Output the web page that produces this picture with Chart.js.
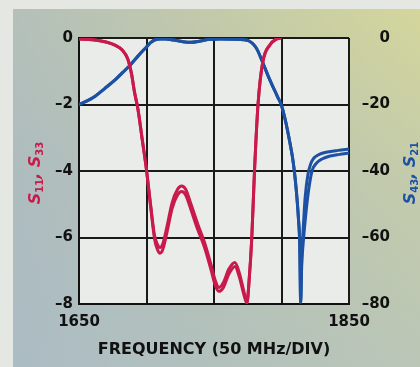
<!DOCTYPE html>
<html>
<head>
<meta charset="utf-8">
<script src="https://cdn.jsdelivr.net/npm/chart.js@4.4.1/dist/chart.umd.min.js"></script>
<style>
  html, body { margin: 0; padding: 0; background: #e4e7e2; }
  #wrap { width: 420px; height: 367px; position: relative; }
</style>
</head>
<body>
<div id="wrap"><canvas id="c" width="420" height="367"></canvas></div>
<script>
// ---- Data ----
const freqTicks = [1650, 1850];
const leftTicks = [0, -2, -4, -6, -8];
const rightTicks = [0, -20, -40, -60, -80];

// S11 (left axis)
const s11Freq = [1650,1660,1670,1677,1682,1686,1689,1691,1693.7,1697,1700,1703,1706,1708,1710,1712,1715,1719,1723,1726,1729,1733,1738,1743,1748,1751,1753.7,1757,1761,1765.5,1769,1772,1774.4,1776,1778,1780,1782.6,1786,1791.5,1796,1799];
const s11Val  = [-0.03,-0.05,-0.12,-0.22,-0.36,-0.62,-1.1,-1.6,-2.15,-3.1,-3.97,-5.0,-5.95,-6.2,-6.3,-6.2,-5.7,-4.95,-4.55,-4.45,-4.55,-5.0,-5.6,-6.15,-6.85,-7.3,-7.5,-7.35,-6.95,-6.75,-7.1,-7.6,-7.95,-7.3,-6.0,-4.0,-2.0,-0.75,-0.2,-0.04,0];
// S33 (left axis)
const s33Freq = s11Freq;
const s33Val  = [-0.03,-0.05,-0.12,-0.22,-0.36,-0.62,-1.1,-1.6,-2.15,-3.1,-3.97,-5.05,-6.05,-6.35,-6.47,-6.37,-5.88,-5.12,-4.72,-4.62,-4.72,-5.17,-5.77,-6.3,-7.0,-7.45,-7.62,-7.5,-7.1,-6.87,-7.22,-7.7,-7.98,-7.3,-6.0,-4.0,-2.0,-0.75,-0.2,-0.04,0];

// S21 (right axis, dB)
const s21Freq = [1650,1656,1662,1669,1676.7,1682,1688,1694,1700,1703,1706,1710,1714,1720,1727,1733,1740,1747,1755,1765,1772,1776,1779,1782,1786,1790,1793.7,1797,1800,1803,1806,1808,1809.5,1811,1812.5,1813.5,1814.2,1815,1816,1817.5,1819.6,1821.5,1824,1828,1834,1842,1850];
const s21Val  = [-20.0,-18.9,-17.5,-15.2,-12.6,-10.5,-8.1,-5.3,-2.7,-1.4,-0.6,-0.3,-0.3,-0.6,-1.1,-1.3,-0.9,-0.4,-0.3,-0.35,-0.5,-0.9,-1.8,-3.5,-7.3,-11.3,-14.7,-17.6,-20.3,-25,-31,-35.5,-40,-46,-54,-62,-79.5,-66,-58,-48,-41,-38,-36.1,-35.0,-34.3,-33.8,-33.4];
// S43 (right axis, dB)
const s43Freq = [1650,1656,1662,1669,1676.7,1682,1688,1694,1700,1703,1706,1710,1714,1720,1727,1733,1740,1747,1755,1765,1772,1776,1779,1782,1786,1790,1793.7,1797,1800,1803,1806,1808,1809.5,1811,1812.5,1813.5,1814.2,1815,1816,1818,1820,1822.6,1826,1830,1836,1843,1850];
const s43Val  = [-20.0,-18.9,-17.5,-15.2,-12.6,-10.5,-8.1,-5.3,-2.7,-1.4,-0.6,-0.3,-0.3,-0.6,-1.1,-1.3,-0.9,-0.4,-0.3,-0.35,-0.5,-0.9,-1.8,-3.5,-7.3,-11.3,-14.7,-17.6,-20.3,-25,-31,-35.5,-40,-46,-54,-62,-79.5,-68,-62,-53,-46,-40,-37.6,-36.4,-35.5,-35.0,-34.6];

const xTitle = 'FREQUENCY (50 MHz/DIV)';
const leftTitle = [['S', 0], ['11', 1], [', ', 0], ['S', 0], ['33', 1]];
const rightTitle = [['S', 0], ['43', 1], [', ', 0], ['S', 0], ['21', 1]];

const RED = '#c81a4b';
const BLUE = '#1d51a3';

function pts(xs, ys) { return xs.map((x, i) => ({ x: x, y: ys[i] })); }
function dash(v) { return v === 0 ? '0' : '\u2013' + Math.abs(v); }

const bgPlugin = {
  id: 'bg',
  beforeDraw(chart) {
    const ctx = chart.ctx, W = chart.width, H = chart.height;
    ctx.save();
    ctx.fillStyle = '#e4e7e2';
    ctx.fillRect(0, 0, W, H);
    const g1 = ctx.createLinearGradient(13, 0, W, 0);
    g1.addColorStop(0, '#b4c0b9');
    g1.addColorStop(0.5, '#c3caa9');
    g1.addColorStop(1, '#d4d69b');
    ctx.fillStyle = g1;
    ctx.fillRect(13, 9, W - 13, H - 9);
    const g2 = ctx.createLinearGradient(0, 9, 0, H);
    g2.addColorStop(0, 'rgba(160,180,205,0)');
    g2.addColorStop(0.45, 'rgba(160,180,205,0.3)');
    g2.addColorStop(1, 'rgba(165,185,205,0.55)');
    ctx.fillStyle = g2;
    ctx.fillRect(13, 9, W - 13, H - 9);
    const a = chart.chartArea;
    ctx.fillStyle = '#e9ece9';
    ctx.fillRect(a.left, a.top, a.right - a.left, a.bottom - a.top);
    ctx.restore();
  }
};

function drawSub(ctx, parts, cx, cy, color) {
  const mainF = 'italic bold 16px "DejaVu Sans"';
  const subF = 'bold 10px "DejaVu Sans"';
  ctx.save();
  let total = 0;
  parts.forEach(p => { ctx.font = p[1] ? subF : mainF; total += ctx.measureText(p[0]).width; });
  ctx.translate(cx, cy);
  ctx.rotate(-Math.PI / 2);
  ctx.fillStyle = color;
  ctx.textBaseline = 'alphabetic';
  ctx.textAlign = 'left';
  let x = -total / 2;
  parts.forEach(p => {
    ctx.font = p[1] ? subF : mainF;
    ctx.fillText(p[0], x, p[1] ? 9 : 6);
    x += ctx.measureText(p[0]).width;
  });
  ctx.restore();
}

const titlePlugin = {
  id: 'titles',
  afterDraw(chart) {
    const a = chart.chartArea;
    const cy = (a.top + a.bottom) / 2 + 2;
    drawSub(chart.ctx, leftTitle, 34, cy, RED);
    drawSub(chart.ctx, rightTitle, 409, cy, BLUE);
  }
};

const tickFont = { family: 'DejaVu Sans', size: 15, weight: 'bold' };

new Chart(document.getElementById('c'), {
  type: 'line',
  data: {
    datasets: [
      { label: 'S11', data: pts(s11Freq, s11Val), yAxisID: 'y', borderColor: RED, borderWidth: 3, order: 1 },
      { label: 'S33', data: pts(s33Freq, s33Val), yAxisID: 'y', borderColor: RED, borderWidth: 3, order: 1 },
      { label: 'S21', data: pts(s21Freq, s21Val), yAxisID: 'y2', borderColor: BLUE, borderWidth: 3, order: 2 },
      { label: 'S43', data: pts(s43Freq, s43Val), yAxisID: 'y2', borderColor: BLUE, borderWidth: 3, order: 2 }
    ]
  },
  options: {
    responsive: false,
    animation: false,
    parsing: true,
    layout: { padding: { top: 38, left: 0, right: 30, bottom: 0 } },
    elements: {
      point: { radius: 0 },
      line: { cubicInterpolationMode: 'monotone', fill: false, borderCapStyle: 'round', borderJoinStyle: 'round' }
    },
    plugins: { legend: { display: false }, tooltip: { enabled: false } },
    scales: {
      x: {
        type: 'linear', min: 1650, max: 1850,
        afterFit(s) { s.height = 63; },
        afterBuildTicks(s) { s.ticks = [1650,1700,1750,1800,1850].map(v => ({ value: v })); },
        ticks: {
          color: '#111', font: tickFont, padding: 9, maxRotation: 0, autoSkip: false,
          callback: v => freqTicks.includes(v) ? String(v) : ''
        },
        grid: { color: '#1a1a1a', lineWidth: 2, drawTicks: false },
        border: { color: '#111', width: 2 },
        title: { display: true, text: xTitle, color: '#111', font: { family: 'DejaVu Sans', size: 16, weight: 'bold' }, padding: { top: 0, bottom: 8 } }
      },
      y: {
        position: 'left', min: -8, max: 0,
        afterFit(s) { s.width = 79; },
        afterBuildTicks(s) { s.ticks = leftTicks.map(v => ({ value: v })); },
        ticks: { color: '#111', font: tickFont, padding: 6, callback: v => dash(v) },
        grid: { color: '#1a1a1a', lineWidth: 2, drawTicks: false },
        border: { color: '#111', width: 2 }
      },
      y2: {
        position: 'right', min: -80, max: 0,
        afterFit(s) { s.width = 41; },
        afterBuildTicks(s) { s.ticks = rightTicks.map(v => ({ value: v })); },
        ticks: { color: '#111', font: tickFont, padding: 8, crossAlign: 'far', callback: v => dash(v) },
        grid: { display: false, drawTicks: false },
        border: { display: false }
      }
    }
  },
  plugins: [bgPlugin, titlePlugin]
});
</script>
</body>
</html>
